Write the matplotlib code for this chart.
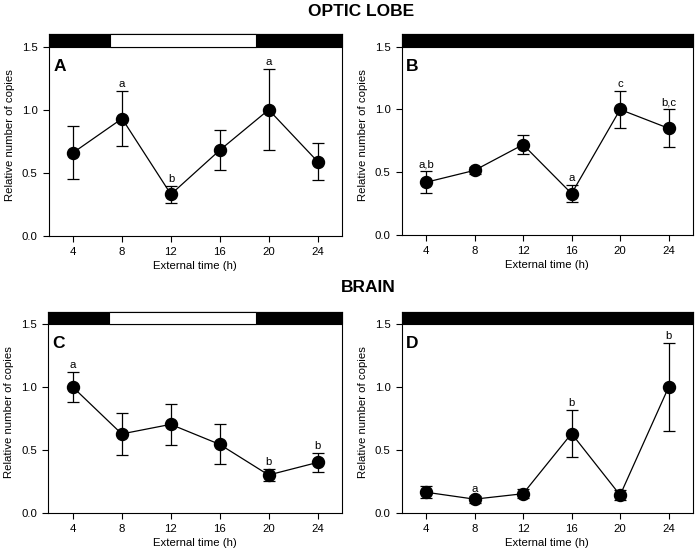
import numpy as np
import matplotlib.pyplot as plt
from matplotlib.patches import Rectangle

plt.rcParams['font.family'] = ['Liberation Sans', 'DejaVu Sans']

# Dados
hours = [4, 8, 12, 16, 20, 24]

mean_A = [0.66, 0.93, 0.33, 0.68, 1.00, 0.59]
err_A = [0.21, 0.22, 0.068, 0.16, 0.32, 0.145]
let_A = ['', 'a', 'b', '', 'a', '']

mean_B = [0.42, 0.515, 0.72, 0.33, 1.00, 0.85]
err_B = [0.088, 0.03, 0.078, 0.067, 0.148, 0.15]
let_B = ['a,b', '', '', 'a', 'c', 'b,c']

mean_C = [1.00, 0.627, 0.703, 0.544, 0.30, 0.40]
err_C = [0.117, 0.168, 0.162, 0.16, 0.048, 0.077]
let_C = ['a', '', '', '', 'b', 'b']

mean_D = [0.163, 0.108, 0.151, 0.63, 0.14, 1.00]
err_D = [0.048, 0.027, 0.035, 0.19, 0.04, 0.35]
let_D = ['', 'a', '', 'b', '', 'b']

# fotoperiodo: (luz acesa, luz apagada) ou None para escuro constante
light_LD = (7, 19)
light_DD = None

fs = 8.2

def painel(ax, mean, err, letras, letra_painel, luz):
    ax.errorbar(hours, mean, yerr=err, color='black', lw=0.9, elinewidth=0.9,
                capsize=6/1.389, capthick=0.9, marker='o', markersize=12/1.389,
                markerfacecolor='black', markeredgecolor='black', zorder=3)
    for x, m, e, t in zip(hours, mean, err, letras):
        if t:
            ax.annotate(t, (x, m + e), xytext=(0, 1.5), textcoords='offset points',
                        ha='center', va='bottom', fontsize=fs)
    ax.set_xlim(2, 26)
    ax.set_ylim(0, 1.6)
    ax.set_xticks(hours)
    ax.set_yticks([0, 0.5, 1.0, 1.5])
    ax.set_yticklabels(['0.0', '0.5', '1.0', '1.5'])
    ax.tick_params(direction='out', length=4, width=0.8, labelsize=fs, pad=4)
    ax.set_xlabel('External time (h)', fontsize=fs, labelpad=3)
    ax.set_ylabel('Relative number of copies', fontsize=fs, labelpad=5)
    for s in ax.spines.values():
        s.set_linewidth(0.8)
    # barra claro/escuro
    ax.add_patch(Rectangle((2, 1.5), 24, 0.1, facecolor='black', edgecolor='black',
                           lw=0.8, zorder=4, clip_on=False))
    if luz is not None:
        ax.add_patch(Rectangle((luz[0], 1.5), luz[1] - luz[0], 0.1, facecolor='white',
                               edgecolor='black', lw=0.8, zorder=5, clip_on=False))
    ax.text(0.015, 0.84, letra_painel, transform=ax.transAxes, fontsize=12.5,
            fontweight='bold', ha='left', va='center')

fig = plt.figure(figsize=(7, 5.57), dpi=100)
axA = fig.add_axes([0.0696, 0.5763, 0.419, 0.3627])
axB = fig.add_axes([0.5739, 0.5781, 0.416, 0.3605])
axC = fig.add_axes([0.069, 0.0795, 0.4196, 0.361])
axD = fig.add_axes([0.5739, 0.0795, 0.416, 0.361])

painel(axA, mean_A, err_A, let_A, 'A', light_LD)
painel(axB, mean_B, err_B, let_B, 'B', light_DD)
painel(axC, mean_C, err_C, let_C, 'C', light_LD)
painel(axD, mean_D, err_D, let_D, 'D', light_DD)

fig.text(361/700, 1 - 11.5/557, 'OPTIC LOBE', ha='center', va='center',
         fontsize=12.5, fontweight='bold')
fig.text(368/700, 1 - 287.5/557, 'BRAIN', ha='center', va='center',
         fontsize=12.5, fontweight='bold')

fig.savefig('out.png', dpi=100)
